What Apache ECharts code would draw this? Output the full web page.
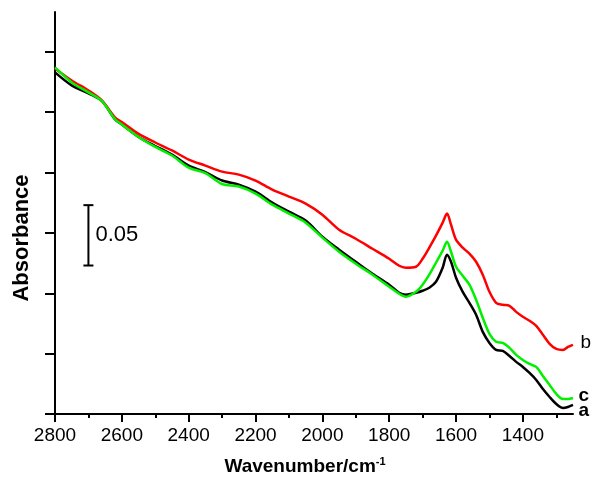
<!DOCTYPE html>
<html>
<head>
<meta charset="utf-8">
<script src="https://cdn.jsdelivr.net/npm/echarts@6/dist/echarts.min.js"></script>
<style>
html, body { margin: 0; padding: 0; background: #fff; }
#chart { width: 593px; height: 477px; }
</style>
</head>
<body>
<div id="chart"></div>
<script>
// wavenumber (cm-1) samples
var wavenumbers = [2800, 2750, 2700, 2660, 2620, 2600, 2550, 2500, 2450, 2400, 2350, 2300, 2250, 2200,
    2150, 2100, 2050, 2000, 1950, 1900, 1850, 1800, 1770, 1750, 1720, 1700, 1680, 1660, 1640, 1627,
    1615, 1600, 1580, 1560, 1540, 1520, 1500, 1480, 1460, 1440, 1420, 1400, 1380, 1360, 1340, 1320,
    1300, 1280, 1265, 1250];
// absorbance, curve a (black)
var absA = [0.2830, 0.2722, 0.2656, 0.2593, 0.2440, 0.2398, 0.2295, 0.2220, 0.2149, 0.2058, 0.2004, 0.1934, 0.1900, 0.1842,
    0.1751, 0.1676, 0.1602, 0.1469, 0.1361, 0.1261, 0.1162, 0.1071, 0.1004, 0.0988, 0.1004, 0.1021, 0.1046, 0.1095, 0.1212, 0.1320,
    0.1261, 0.1129, 0.1012, 0.0921, 0.0822, 0.0680, 0.0589, 0.0531, 0.0523, 0.0481, 0.0432, 0.0390, 0.0340, 0.0282, 0.0207, 0.0141,
    0.0083, 0.0050, 0.0058, 0.0075];
// curve b (red)
var absB = [0.2863, 0.2763, 0.2680, 0.2598, 0.2456, 0.2419, 0.2320, 0.2249, 0.2183, 0.2108, 0.2058, 0.2008, 0.1983, 0.1934,
    0.1859, 0.1801, 0.1743, 0.1651, 0.1527, 0.1452, 0.1369, 0.1286, 0.1228, 0.1212, 0.1220, 0.1286, 0.1378, 0.1477, 0.1585, 0.1660,
    0.1568, 0.1444, 0.1378, 0.1328, 0.1261, 0.1154, 0.1012, 0.0921, 0.0905, 0.0896, 0.0846, 0.0805, 0.0772, 0.0730, 0.0656, 0.0581,
    0.0539, 0.0531, 0.0556, 0.0573];
// curve c (green)
var absC = [0.2871, 0.2747, 0.2664, 0.2593, 0.2440, 0.2398, 0.2295, 0.2212, 0.2141, 0.2041, 0.1996, 0.1905, 0.1884, 0.1826,
    0.1734, 0.1660, 0.1585, 0.1461, 0.1344, 0.1245, 0.1154, 0.1054, 0.0996, 0.0971, 0.1012, 0.1071, 0.1154, 0.1253, 0.1353, 0.1427,
    0.1344, 0.1220, 0.1145, 0.1071, 0.0946, 0.0797, 0.0664, 0.0598, 0.0589, 0.0548, 0.0490, 0.0448, 0.0415, 0.0390, 0.0315, 0.0241,
    0.0166, 0.0124, 0.0124, 0.0133];

var majorTicks = [2800, 2600, 2400, 2200, 2000, 1800, 1600, 1400];
var minorTicks = [2700, 2500, 2300, 2100, 1900, 1700, 1500, 1300];
var yTicks = [0, 0.05, 0.10, 0.15, 0.20, 0.25, 0.30];
// scale bar: x position, bottom, top (0.05 absorbance)
var scaleBar = [2700, 0.123, 0.173];
var scaleText = '0.05';

var FONT = 'Liberation Sans, Arial, Helvetica, sans-serif';

function pairs(ys) {
    return wavenumbers.map(function (w, i) { return [w, ys[i]]; });
}

function lineSeries(name, ys, color, offset) {
    return {
        name: name,
        type: 'line',
        data: pairs(ys),
        symbol: 'none',
        smooth: 0.3,
        lineStyle: { color: color, width: 2.5 },
        endLabel: {
            show: true,
            formatter: name,
            color: '#000',
            fontFamily: FONT,
            fontSize: 19,
            fontWeight: name === 'b' ? 'normal' : 'bold',
            offset: offset
        }
    };
}

var chart = echarts.init(document.getElementById('chart'));

var option = {
    animation: false,
    backgroundColor: '#fff',
    grid: { left: 55, right: 20, top: 12, bottom: 63 },
    xAxis: [{
        type: 'value',
        inverse: true,
        min: 1250,
        max: 2800,
        axisLine: { onZero: false, lineStyle: { color: '#000', width: 2 } },
        axisTick: { customValues: majorTicks, length: 8, lineStyle: { color: '#000', width: 2 } },
        axisLabel: {
            customValues: majorTicks,
            formatter: function (v) { return String(v); },
            color: '#000', fontSize: 19, fontFamily: FONT, margin: 12
        },
        splitLine: { show: false }
    }, {
        type: 'value',
        inverse: true,
        position: 'bottom',
        min: 1250,
        max: 2800,
        axisLine: { show: false, onZero: false },
        axisTick: { customValues: minorTicks, length: 4, lineStyle: { color: '#000', width: 2 } },
        axisLabel: { show: false },
        splitLine: { show: false }
    }],
    yAxis: {
        type: 'value',
        min: 0,
        max: 0.333,
        axisLine: { show: true, onZero: false, lineStyle: { color: '#000', width: 2 } },
        axisTick: { show: true, customValues: yTicks, length: 10, lineStyle: { color: '#000', width: 2 } },
        axisLabel: { show: false },
        splitLine: { show: false }
    },
    graphic: [{
        type: 'text',
        x: 22,
        y: 238,
        rotation: Math.PI / 2,
        style: {
            text: 'Absorbance',
            fill: '#000',
            font: 'bold 22px ' + FONT,
            align: 'center',
            verticalAlign: 'middle'
        }
    }, {
        type: 'text',
        x: 305,
        y: 467,
        style: {
            text: '{m|Wavenumber/cm}{s|-1}',
            fill: '#000',
            align: 'center',
            verticalAlign: 'middle',
            rich: {
                m: { fontSize: 19, fontWeight: 'bold', fontFamily: FONT, lineHeight: 22 },
                s: { fontSize: 11, fontWeight: 'bold', fontFamily: FONT, verticalAlign: 'top', lineHeight: 22 }
            }
        }
    }],
    series: [
        lineSeries('a', absA, '#000000', [24, 6]),
        lineSeries('b', absB, '#ff0000', [26, -2]),
        lineSeries('c', absC, '#00f000', [24, -2]),
        {
            type: 'custom',
            data: [scaleBar],
            silent: true,
            renderItem: function (params, api) {
                var x = api.value(0);
                var lo = api.coord([x, api.value(1)]);
                var hi = api.coord([x, api.value(2)]);
                var st = { stroke: '#000', lineWidth: 2 };
                return {
                    type: 'group',
                    children: [
                        { type: 'line', shape: { x1: lo[0], y1: lo[1], x2: hi[0], y2: hi[1] }, style: st },
                        { type: 'line', shape: { x1: hi[0] - 5, y1: hi[1], x2: hi[0] + 5, y2: hi[1] }, style: st },
                        { type: 'line', shape: { x1: lo[0] - 5, y1: lo[1], x2: lo[0] + 5, y2: lo[1] }, style: st },
                        {
                            type: 'text',
                            style: {
                                text: scaleText,
                                x: lo[0] + 7,
                                y: (lo[1] + hi[1]) / 2,
                                fill: '#000',
                                font: '22px ' + FONT,
                                verticalAlign: 'middle'
                            }
                        }
                    ]
                };
            }
        }
    ]
};

chart.setOption(option);
</script>
</body>
</html>
